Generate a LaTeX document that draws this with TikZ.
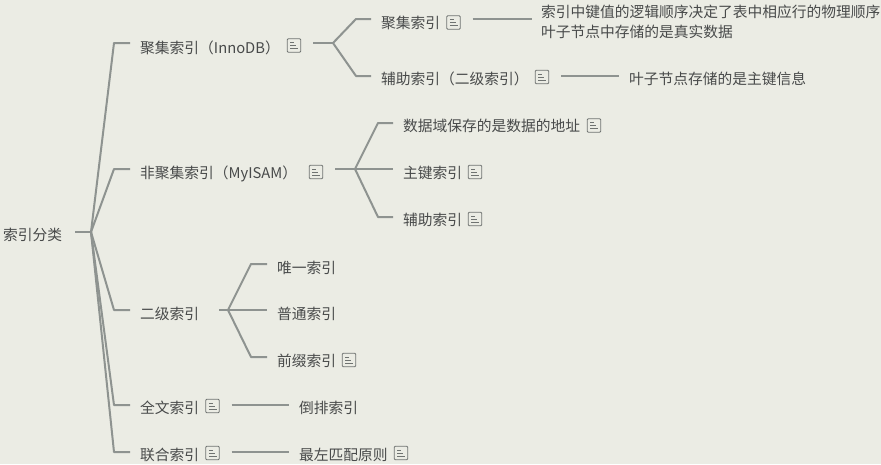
\documentclass[tikz,border=0pt]{standalone}
\usepackage{fontspec}
\setmainfont{Noto Sans CJK SC}
\usetikzlibrary{arrows, arrows.meta}
\definecolor{paper}{HTML}{EBECE4}
\definecolor{branch}{HTML}{8E9390}
\definecolor{ink}{HTML}{484A4A}
\definecolor{noteink}{HTML}{6F7371}
\tikzset{topic/.style = {anchor = west, inner xsep = 10pt, inner ysep = 0pt, text = ink, font = \fontsize{14.75pt}{20pt}\selectfont, align = left}}
\tikzset{note/.style = {draw = noteink, line width = 0.9pt, rounded corners = 1pt, inner sep = 0pt, minimum size = 13.5pt, path picture = {
	\draw[noteink, line width = 0.9pt] ([shift = {(3pt, -4pt)}]path picture bounding box.north west) -- ++(4pt, 0pt);
	\draw[noteink, line width = 0.9pt] ([shift = {(3pt, -7pt)}]path picture bounding box.north west) -- ++(6pt, 0pt);
	\draw[noteink, line width = 0.9pt] ([shift = {(3pt, -10pt)}]path picture bounding box.north west) -- ++(8pt, 0pt);
}}}
\tikzset{edge/.style = {-, draw = branch, line width = 2pt, line join = round}}
\tikzset{trunk/.style = {-, draw = branch, line width = 2.6pt}}
\begin{document}
\begin{tikzpicture}[x = 1pt, y = -1pt]
	\fill[paper] (0, 0) rectangle (881, 464);
	\useasboundingbox (0, 0) rectangle (881, 464);

	\node[topic, inner xsep = 3pt] (root) at (0, 235) {索引分类};

	\node[topic] (inno) at (130, 48) {聚集索引（InnoDB）};
	\node[topic] (isam) at (130, 174) {非聚集索引（MyISAM）};
	\node[topic] (second) at (130, 314) {二级索引};
	\node[topic] (full) at (130, 408) {全文索引};
	\node[topic] (joint) at (130, 455) {联合索引};

	\node[topic] (cluster) at (371, 23) {聚集索引};
	\node[topic] (assist) at (371, 79) {辅助索引（二级索引）};
	\node[topic] (clustertext) at (531, 22) {索引中键值的逻辑顺序决定了表中相应行的物理顺序\\叶子节点中存储的是真实数据};
	\node[topic] (assisttext) at (619, 79) {叶子节点存储的是主键信息};

	\node[topic] (addr) at (393, 126) {数据域保存的是数据的地址};
	\node[topic] (primary) at (393, 173) {主键索引};
	\node[topic] (isamassist) at (393, 220) {辅助索引};

	\node[topic] (unique) at (267, 268) {唯一索引};
	\node[topic] (normal) at (267, 314) {普通索引};
	\node[topic] (prefix) at (267, 361) {前缀索引};

	\node[topic] (invert) at (289, 408) {倒排索引};
	\node[topic] (leftmost) at (289, 455) {最左匹配原则};

	\node[note] (innonote) at (294, 45.5) {};
	\node[note] (isamnote) at (316, 172) {};
	\node[note] (clusternote) at (453.5, 22.5) {};
	\node[note] (assistnote) at (542, 77) {};
	\node[note] (addrnote) at (594, 125.5) {};
	\node[note] (primarynote) at (475, 172) {};
	\node[note] (isamassistnote) at (475, 219) {};
	\node[note] (prefixnote) at (349, 360) {};
	\node[note] (fullnote) at (212.5, 406) {};
	\node[note] (jointnote) at (212.5, 453) {};
	\node[note] (leftmostnote) at (401, 453) {};

	\coordinate (rootfork) at (91, 232);
	\coordinate (innobend) at (114, 43);
	\coordinate (isambend) at (114, 169);
	\coordinate (secondbend) at (114, 310);
	\coordinate (fullbend) at (114, 405);
	\coordinate (jointbend) at (114, 452);

	\coordinate (innofork) at (333, 43);
	\coordinate (clusterbend) at (356, 19);
	\coordinate (assistbend) at (356, 76);
	\coordinate (isamfork) at (355, 169);
	\coordinate (addrbend) at (378, 123);
	\coordinate (isamassistbend) at (378, 217);
	\coordinate (secondfork) at (228, 310);
	\coordinate (uniquebend) at (251, 264);
	\coordinate (prefixbend) at (251, 357);

	\draw[trunk] ([shift = {(10pt, 3pt)}]root.east) -- (rootfork);
	\draw[edge] (rootfork) -- (innobend) -- ([yshift = 5pt]inno.west);
	\draw[edge] (rootfork) -- (isambend) -- ([yshift = 5pt]isam.west);
	\draw[edge] (rootfork) -- (secondbend) -- ([yshift = 4pt]second.west);
	\draw[edge] (rootfork) -- (fullbend) -- ([yshift = 3pt]full.west);
	\draw[edge] (rootfork) -- (jointbend) -- ([yshift = 3pt]joint.west);

	\draw[edge] ([shift = {(12pt, 2.5pt)}]innonote.east) -- (innofork);
	\draw[edge] (innofork) -- (clusterbend) -- ([yshift = 4pt]cluster.west);
	\draw[edge] (innofork) -- (assistbend) -- ([yshift = 3pt]assist.west);
	\draw[edge] ([shift = {(12pt, 3.5pt)}]clusternote.east) -- ([shift = {(1pt, 4pt)}]clustertext.west |- cluster.west);
	\draw[edge] ([shift = {(12pt, 1pt)}]assistnote.east) -- ([yshift = 3pt]assisttext.west);

	\draw[edge] ([shift = {(12pt, 3pt)}]isamnote.east) -- (isamfork);
	\draw[edge] (isamfork) -- (addrbend) -- ([yshift = 3pt]addr.west);
	\draw[edge] (isamfork) -- ([yshift = 4pt]primary.west);
	\draw[edge] (isamfork) -- (isamassistbend) -- ([yshift = 3pt]isamassist.west);

	\draw[edge] ([shift = {(10pt, 4pt)}]second.east) -- (secondfork);
	\draw[edge] (secondfork) -- (uniquebend) -- ([yshift = 4pt]unique.west);
	\draw[edge] (secondfork) -- ([yshift = 4pt]normal.west);
	\draw[edge] (secondfork) -- (prefixbend) -- ([yshift = 4pt]prefix.west);

	\draw[edge] ([shift = {(12pt, 1pt)}]fullnote.east) -- ([yshift = 3pt]invert.west);
	\draw[edge] ([shift = {(12pt, 1pt)}]jointnote.east) -- ([yshift = 3pt]leftmost.west);
\end{tikzpicture}
\end{document}
